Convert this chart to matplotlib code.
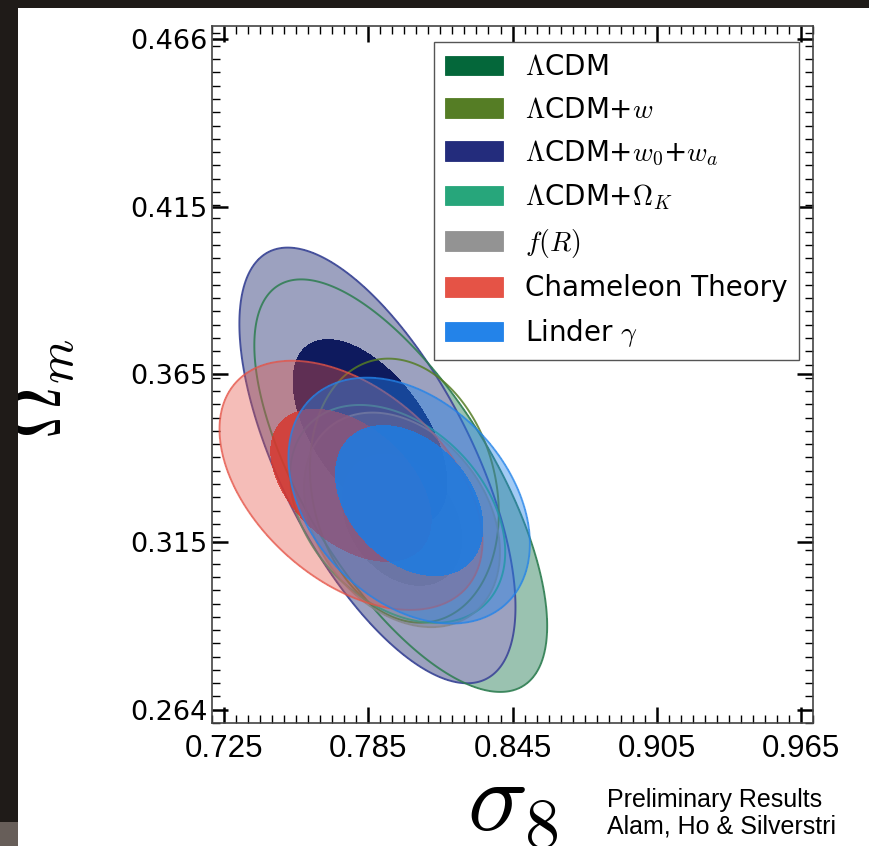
import numpy as np
import matplotlib
matplotlib.use('Agg')
import matplotlib.pyplot as plt
import matplotlib.patches as mpatches
from matplotlib.ticker import MultipleLocator

plt.rcParams['mathtext.fontset'] = 'cm'

# constraints in the (sigma_8, Omega_m) plane, one gaussian fit per confidence level
labels = [r'$\Lambda$CDM', r'$\Lambda$CDM+$w$', r'$\Lambda$CDM+$w_0$+$w_a$',
          r'$\Lambda$CDM+$\Omega_K$', r'$f(R)$', 'Chameleon Theory', r'Linder $\gamma$']
colors = ['#04673a', '#557d25', '#232c7c', '#27a67b', '#939393', '#e55346', '#2383e9']

# 95% region
s8_mean = [0.7985, 0.8000, 0.7888, 0.7972, 0.7990, 0.7778, 0.8020]
om_mean = [0.3315, 0.3300, 0.3376, 0.3230, 0.3212, 0.3316, 0.3270]
s8_sig = [0.0245, 0.0158, 0.0231, 0.0180, 0.0164, 0.0220, 0.0202]
om_sig = [0.0250, 0.0160, 0.0264, 0.0132, 0.0130, 0.0151, 0.0149]
corr = [-0.68, -0.17, -0.65, -0.35, -0.30, -0.45, -0.35]

# 68% region
s8_mean_in = [0.7985, 0.8000, 0.7857, 0.7972, 0.7990, 0.7778, 0.8020]
om_mean_in = [0.3315, 0.3300, 0.3476, 0.3230, 0.3212, 0.3316, 0.3270]
s8_sig_in = [0.0245, 0.0158, 0.0211, 0.0180, 0.0164, 0.0220, 0.0202]
om_sig_in = [0.0250, 0.0160, 0.0184, 0.0132, 0.0130, 0.0151, 0.0149]
corr_in = [-0.68, -0.17, -0.55, -0.35, -0.30, -0.45, -0.35]

x_ticks = [0.725, 0.785, 0.845, 0.905, 0.965]
y_ticks = [0.264, 0.3145, 0.365, 0.4155, 0.466]
y_tick_labels = ['0.264', '0.315', '0.365', '0.415', '0.466']

# delta chi^2 for 68% and 95% in two parameters
D68, D95 = 2.30, 6.18

gx = np.linspace(0.70, 0.99, 600)
gy = np.linspace(0.24, 0.49, 600)
X, Y = np.meshgrid(gx, gy)


def chi2(mx, my, sx, sy, r):
    dx = (X - mx) / sx
    dy = (Y - my) / sy
    return (dx ** 2 - 2 * r * dx * dy + dy ** 2) / (1 - r ** 2)


def outer(i):
    return chi2(s8_mean[i], om_mean[i], s8_sig[i], om_sig[i], corr[i])


def inner(i):
    return chi2(s8_mean_in[i], om_mean_in[i], s8_sig_in[i], om_sig_in[i], corr_in[i])


def fill(ax, c, level, color, alpha, z):
    ax.contourf(X, Y, c, levels=[0, level], colors=[color], alpha=alpha, zorder=z)


def edge(ax, c, level, color, alpha, z, lw=1.4):
    ax.contour(X, Y, c, levels=[level], colors=[color], linewidths=lw,
               alpha=alpha, zorder=z)


fig = plt.figure(figsize=(8.69, 8.46), dpi=100)
ax = fig.add_axes([0.2440, 0.1454, 0.6916, 0.8239])

# LCDM filled region sits underneath
fill(ax, outer(0), D95, colors[0], 0.40, 1)
# w0 + wa
fill(ax, outer(2), D95, '#9ca1bf', 1.0, 2)
fill(ax, inner(2), D68, '#0e1a5e', 1.0, 2.1)
edge(ax, outer(2), D95, '#3c4797', 0.9, 3)
# outlines of the other dark energy models
for i, col in [(0, '#2d7d50'), (1, colors[1]), (3, colors[3])]:
    edge(ax, outer(i), D95, col, 0.85, 3)
# f(R)
fill(ax, outer(4), D95, '#6f7388', 0.35, 4)
fill(ax, inner(4), D68, '#555a70', 0.40, 4)
edge(ax, outer(4), D95, '#888888', 0.8, 4)
# chameleon
fill(ax, outer(5), D95, colors[5], 0.38, 5)
fill(ax, inner(5), D68, '#d8352c', 0.82, 5)
edge(ax, outer(5), D95, colors[5], 0.7, 5)
# linder gamma
fill(ax, outer(6), D95, colors[6], 0.42, 6)
fill(ax, inner(6), D68, '#1f7be0', 0.88, 6)
edge(ax, outer(6), D95, colors[6], 0.7, 6)

ax.set_xlim(0.72, 0.97)
ax.set_ylim(0.26, 0.47)
ax.set_xticks(x_ticks)
ax.set_xticklabels([f'{v:.3f}' for v in x_ticks], family='Liberation Sans', fontsize=22.5)
ax.set_yticks(y_ticks)
ax.set_yticklabels(y_tick_labels, fontsize=19.5)
ax.xaxis.set_minor_locator(MultipleLocator(0.005))
ax.yaxis.set_minor_locator(MultipleLocator(0.004))
ax.tick_params(which='major', direction='in', length=11.5, width=1.8,
               top=True, right=True)
ax.tick_params(which='minor', direction='in', length=5.8, width=1.0,
               top=True, right=True)
ax.tick_params(axis='y', which='major', pad=3)
ax.tick_params(axis='x', which='major', pad=8)
for s in ax.spines.values():
    s.set_color('#444444')
    s.set_linewidth(1.2)

ax.set_ylabel(r'$\Omega_m$', fontsize=52, rotation=90)
ax.yaxis.set_label_coords(-0.225, 0.48)
ax.set_xlabel(r'$\sigma_8$', fontsize=72)
ax.xaxis.set_label_coords(0.5, -0.046)

handles = [mpatches.Patch(facecolor=c, edgecolor=c, lw=0.6) for c in colors]
leg = ax.legend(handles, labels, loc='upper right', bbox_to_anchor=(0.9767, 0.977),
                borderaxespad=0, fontsize=20, handlelength=2.1, handleheight=0.72,
                handletextpad=0.8, labelspacing=0.53, fancybox=False, framealpha=1)
leg.get_frame().set_edgecolor('#555555')
leg.get_frame().set_linewidth(1.0)
leg.set_zorder(10)

fig.text(0.6985, 0.068, 'Preliminary Results\nAlam, Ho & Silverstri',
         family='Liberation Sans', fontsize=18, ha='left', va='top', linespacing=1.1)

# dark surround of the slide
fig.add_artist(mpatches.Rectangle((0, 1 - 8 / 846), 1, 8 / 846, transform=fig.transFigure,
                                  facecolor='#1f1b18', edgecolor='none'))
fig.add_artist(mpatches.Rectangle((0, 24 / 846), 18 / 869, 1, transform=fig.transFigure,
                                  facecolor='#1f1b18', edgecolor='none'))
fig.add_artist(mpatches.Rectangle((0, 0), 18 / 869, 24 / 846, transform=fig.transFigure,
                                  facecolor='#675e59', edgecolor='none'))

fig.savefig('out.png', dpi=100)
